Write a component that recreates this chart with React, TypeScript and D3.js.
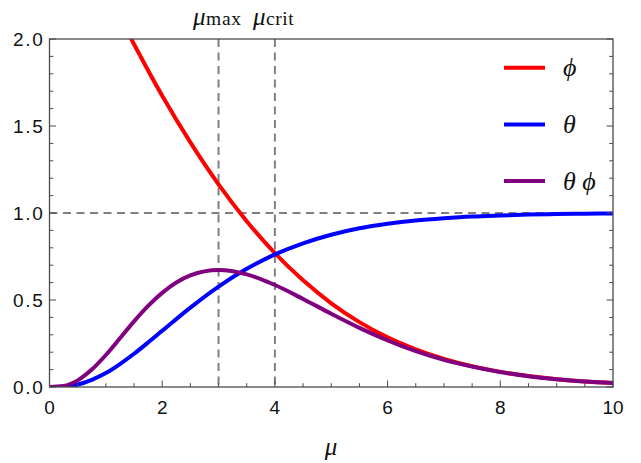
import React from "react";
import * as d3 from "d3";

const mu = [0, 0.25, 0.5, 0.75, 1, 1.25, 1.5, 1.75, 2, 2.5, 3, 3.5, 4, 4.5, 5, 5.5, 6, 6.5, 7, 7.5, 8, 8.5, 9, 9.5, 10];
const phiValues = [3.0, 2.82, 2.634, 2.46, 2.291, 2.127, 1.97, 1.819, 1.674, 1.406, 1.165, 0.953, 0.769, 0.613, 0.481, 0.373, 0.285, 0.216, 0.161, 0.119, 0.087, 0.063, 0.045, 0.032, 0.023];
const thetaValues = [0, 0.002, 0.014, 0.041, 0.08, 0.132, 0.191, 0.256, 0.323, 0.456, 0.577, 0.679, 0.762, 0.826, 0.875, 0.912, 0.938, 0.957, 0.97, 0.98, 0.986, 0.991, 0.994, 0.996, 0.997];
const thetaPhiValues = [0, 0.006, 0.038, 0.1, 0.184, 0.28, 0.377, 0.466, 0.541, 0.641, 0.672, 0.647, 0.586, 0.506, 0.421, 0.34, 0.268, 0.206, 0.156, 0.117, 0.086, 0.062, 0.045, 0.032, 0.023];

const xTickLabels = [0, 2, 4, 6, 8, 10];
const yTickLabels = [0, 0.5, 1.0, 1.5, 2.0];
const muMax = 3;
const muCrit = 4;
const refLevel = 1;

const seriesNames = ["ϕ", "θ", "θ ϕ"];
const seriesColors = ["#ff0000", "#0000ff", "#800080"];

const W = 641;
const H = 463;
const L = 49.5;
const R = 613;
const T = 39;
const B = 387;

export default function App() {
  const x = d3.scaleLinear().domain([0, 10]).range([L, R]);
  const y = d3.scaleLinear().domain([0, 2]).range([B, T]);
  const line = d3
    .line<[number, number]>()
    .x((d) => x(d[0]))
    .y((d) => y(d[1]))
    .curve(d3.curveMonotoneX);

  const series = [phiValues, thetaValues, thetaPhiValues].map((vals) =>
    mu.map((m, i) => [m, vals[i]] as [number, number])
  );

  const yMinor = d3.range(0, 21).map((i) => i / 10);
  const xMinor = d3.range(0, 21).map((i) => i / 2);
  const frame = "#4a4a4a";
  const sans = "'Liberation Sans', Arial, sans-serif";
  const serif = "'Liberation Serif', 'DejaVu Serif', 'Times New Roman', serif";

  return (
    <svg
      width={W}
      height={H}
      style={{ position: "absolute", left: 0, top: 0, background: "#fff" }}
    >
      <defs>
        <clipPath id="plotClip">
          <rect x={L} y={T} width={R - L} height={B - T} />
        </clipPath>
      </defs>
      <rect x={0} y={0} width={W} height={H} fill="#fff" />

      {/* reference dashed lines */}
      <g stroke="#808080" strokeWidth={2} strokeDasharray="8,5.5" fill="none">
        <line x1={x(0)} x2={x(10)} y1={y(refLevel)} y2={y(refLevel)} />
        <line x1={x(muMax)} x2={x(muMax)} y1={T} y2={B} />
        <line x1={x(muCrit)} x2={x(muCrit)} y1={T} y2={B} />
      </g>

      {/* curves */}
      <g clipPath="url(#plotClip)" fill="none" strokeWidth={4} strokeLinejoin="round">
        {series.map((s, i) => (
          <path key={i} d={line(s) || ""} stroke={seriesColors[i]} />
        ))}
      </g>

      {/* frame */}
      <rect x={L} y={T} width={R - L} height={B - T} fill="none" stroke={frame} strokeWidth={1.3} />

      {/* ticks */}
      <g stroke={frame} strokeWidth={1}>
        {yMinor.map((v, i) => {
          const major = i % 5 === 0;
          const len = major ? 6.5 : 3.8;
          return (
            <g key={"y" + i}>
              <line x1={L} x2={L + len} y1={y(v)} y2={y(v)} />
              <line x1={R} x2={R - len} y1={y(v)} y2={y(v)} />
            </g>
          );
        })}
        {xMinor.map((v, i) => {
          const major = i % 4 === 0;
          const len = major ? 6.5 : 3.8;
          return <line key={"x" + i} x1={x(v)} x2={x(v)} y1={B} y2={B - len} />;
        })}
      </g>

      {/* tick labels */}
      <g fontFamily={sans} fontSize={19} fill="#111">
        {yTickLabels.map((v) => (
          <text key={"yl" + v} x={44.5} y={y(v)} dy="0.36em" textAnchor="end" letterSpacing={1.7}>
            {v.toFixed(1)}
          </text>
        ))}
        {xTickLabels.map((v) => (
          <text key={"xl" + v} x={x(v)} y={414} textAnchor="middle">
            {v}
          </text>
        ))}
      </g>

      {/* axis title */}
      <text x={331} y={455} fontFamily={serif} fontStyle="italic" fontSize={25} textAnchor="middle" fill="#111">
        μ
      </text>

      {/* top labels */}
      <text x={x(muMax) - 25.5} y={25} fontFamily={serif} fill="#111">
        <tspan fontStyle="italic" fontSize={25}>μ</tspan>
        <tspan fontSize={19.5} dx={0.5} letterSpacing={0.6}>max</tspan>
      </text>
      <text x={x(muCrit) - 22} y={25} fontFamily={serif} fill="#111">
        <tspan fontStyle="italic" fontSize={25}>μ</tspan>
        <tspan fontSize={19.5} dx={0.5} letterSpacing={0.6}>crit</tspan>
      </text>

      {/* legend */}
      {seriesNames.map((name, i) => {
        const ly = 67.7 + i * 56.7;
        return (
          <g key={"lg" + i}>
            <line x1={504} x2={545} y1={ly} y2={ly} stroke={seriesColors[i]} strokeWidth={4} />
            <text x={563} y={ly} dy="0.33em" fontFamily={serif} fontStyle="italic" fontSize={26} fill="#111">
              {name}
            </text>
          </g>
        );
      })}
    </svg>
  );
}
